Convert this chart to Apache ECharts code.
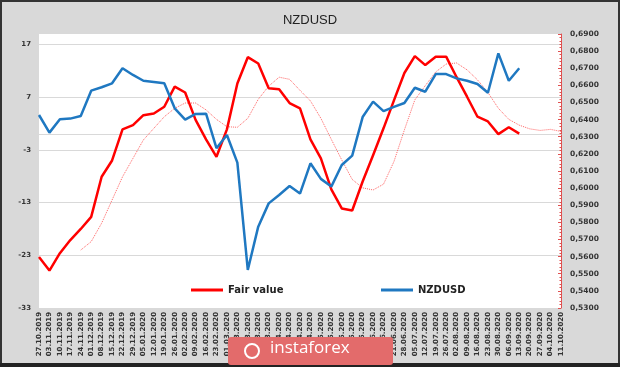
<!DOCTYPE html>
<html>
<head>
<meta charset="utf-8">
<script src="https://cdn.jsdelivr.net/npm/echarts@6/dist/echarts.min.js"></script>
<style>
html,body{margin:0;padding:0;background:#d9d9d9;}
#c{width:620px;height:367px;}
</style>
</head>
<body>
<div id="c"></div>
<script>
var categories = ['27.10.2019','03.11.2019','10.11.2019','17.11.2019','24.11.2019','01.12.2019','08.12.2019','15.12.2019','22.12.2019','29.12.2019',
'05.01.2020','12.01.2020','19.01.2020','26.01.2020','02.02.2020','09.02.2020','16.02.2020','23.02.2020','01.03.2020','08.03.2020',
'15.03.2020','22.03.2020','29.03.2020','05.04.2020','12.04.2020','19.04.2020','26.04.2020','03.05.2020','10.05.2020','17.05.2020',
'24.05.2020','31.05.2020','07.06.2020','14.06.2020','21.06.2020','28.06.2020','05.07.2020','12.07.2020','19.07.2020','26.07.2020',
'02.08.2020','09.08.2020','16.08.2020','23.08.2020','30.08.2020','06.09.2020','13.09.2020','20.09.2020','27.09.2020','04.10.2020','11.10.2020'];

var fairValue = [-23.3,-25.9,-22.6,-20.1,-18.0,-15.7,-8.1,-5.0,0.9,1.7,
3.6,3.9,5.2,9.0,7.9,2.7,-1.0,-4.3,0.9,9.6,
14.6,13.4,8.7,8.5,5.9,4.9,-1.0,-4.6,-10.5,-14.1,
-14.5,-9.0,-4.0,1.1,6.4,11.6,14.8,13.1,14.7,14.7,
10.8,7.1,3.3,2.4,0.0,1.3,0.1,null,null,null,null];

var fairValueAvg = [null,null,null,null,-22.0,-20.4,-16.9,-12.5,-8.1,-4.6,
-1.1,1.1,3.3,4.9,5.9,5.9,4.6,2.8,1.4,1.3,
3.0,6.6,9.1,10.8,10.4,8.3,6.3,3.0,-1.0,-4.9,
-8.6,-10.2,-10.6,-9.5,-5.2,0.8,6.5,9.2,11.8,13.3,
13.5,12.2,10.3,7.9,4.9,2.8,1.7,1.0,0.7,0.9,0.5];

var nzdusd = [0.6427,0.6324,0.6402,0.6406,0.6421,0.6569,0.6589,0.6612,0.6700,0.6661,
0.6627,0.6620,0.6612,0.6466,0.6400,0.6433,0.6435,0.6233,0.6310,0.6149,
0.5522,0.5775,0.5911,0.5960,0.6012,0.5968,0.6145,0.6054,0.6009,0.6135,
0.6190,0.6415,0.6505,0.6450,0.6474,0.6497,0.6586,0.6563,0.6666,0.6666,
0.6641,0.6627,0.6608,0.6557,0.6787,0.6627,0.6700,null,null,null,null];

var leftTicks = {min:-33, max:19, interval:10};
var rightTicks = {min:0.53, max:0.69, interval:0.01};

var chart = echarts.init(document.getElementById('c'), null, {renderer:'canvas'});
var lblFont = {fontFamily:'DejaVu Sans', fontWeight:'bold', fontSize:7, color:'#333'};
var legendText = {fontFamily:'DejaVu Sans', fontWeight:'bold', fontSize:10, color:'#222'};

chart.setOption({
  backgroundColor:'#d9d9d9',
  animation:false,
  title:{text:'NZDUSD', left:305, top:9, textAlign:'center',
    textStyle:{fontFamily:'Liberation Sans', fontSize:13, fontWeight:'normal', color:'#222'}},
  legend:[
    {data:['Fair value'], left:186, top:280, itemWidth:32, itemHeight:3, icon:'rect', itemGap:6, textStyle:legendText},
    {data:['NZDUSD'], left:376, top:280, itemWidth:32, itemHeight:3, icon:'rect', itemGap:6, textStyle:legendText}
  ],
  grid:{left:39, right:59, top:34, bottom:59, show:true, backgroundColor:'#ffffff', borderWidth:0},
  xAxis:{type:'category', data:categories, boundaryGap:false,
    axisLine:{show:true, lineStyle:{color:'#d9d9d9'}},
    axisTick:{show:false},
    axisLabel:Object.assign({interval:0, rotate:90, margin:4}, lblFont)
  },
  yAxis:[
    {type:'value', min:leftTicks.min, max:leftTicks.max, interval:leftTicks.interval, position:'left',
      axisLine:{show:false}, axisTick:{show:false},
      axisLabel:Object.assign({showMaxLabel:false, margin:8}, lblFont),
      splitLine:{show:true, showMaxLine:false, lineStyle:{color:'#d9d9d9', width:1}}},
    {type:'value', min:rightTicks.min, max:rightTicks.max, interval:rightTicks.interval, position:'right',
      axisLine:{show:true, lineStyle:{color:'#e05050', width:1}},
      axisTick:{show:true, inside:true, length:3, lineStyle:{color:'#e05050'}},
      minorTick:{show:true, splitNumber:5, length:1.5, lineStyle:{color:'#e05050'}},
      axisLabel:Object.assign({margin:9, formatter:function(v){return v.toFixed(4).replace('.',',');}}, lblFont, {fontSize:7.5}),
      splitLine:{show:false}}
  ],
  series:[
    {name:'Fair value avg', type:'line', yAxisIndex:0, data:fairValueAvg, showSymbol:false, symbol:'none', z:1,
      lineStyle:{color:'#ff6464', width:1, type:'dotted'}, itemStyle:{color:'#ff6464'}},
    {name:'Fair value', type:'line', yAxisIndex:0, data:fairValue, showSymbol:false, symbol:'none', z:2,
      lineStyle:{color:'#ff0000', width:2.5}, itemStyle:{color:'#ff0000'}},
    {name:'NZDUSD', type:'line', yAxisIndex:1, data:nzdusd, showSymbol:false, symbol:'none', z:3,
      lineStyle:{color:'#1f78c1', width:2.5}, itemStyle:{color:'#1f78c1'}}
  ],
  graphic:[
    {type:'rect', z:100, silent:true, shape:{x:1, y:1, width:618, height:365},
      style:{fill:null, stroke:'#333333', lineWidth:2}},
    {type:'rect', z:100, silent:true, shape:{x:0, y:363, width:620, height:4},
      style:{fill:'#222222'}},
    {type:'rect', z:101, silent:true, shape:{x:228, y:337, width:165, height:28, r:3},
      style:{fill:'#e36b6b'}},
    {type:'circle', z:102, silent:true, shape:{cx:252, cy:351, r:7},
      style:{fill:null, stroke:'#ffffff', lineWidth:2}},
    {type:'text', z:102, silent:true, left:270, top:340,
      style:{text:'instaforex', fill:'#ffffff', font:'17px "Open Sans"'}}
  ]
});
</script>
</body>
</html>
